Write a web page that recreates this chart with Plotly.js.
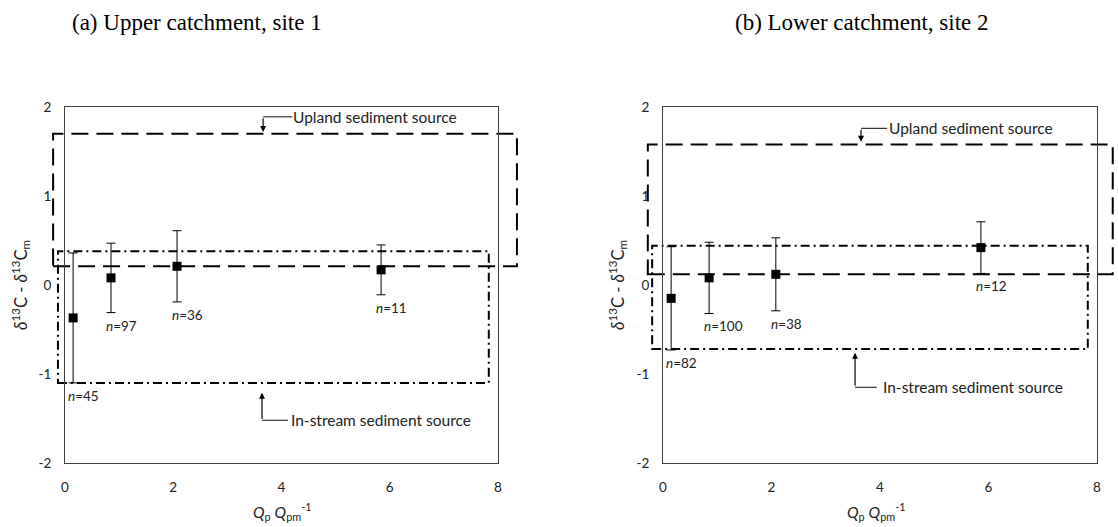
<!DOCTYPE html>
<html>
<head>
<meta charset="utf-8">
<script src="https://cdn.plot.ly/plotly-3.0.1.min.js"></script>
<style>html,body{margin:0;padding:0;background:#fff}#chart{width:1118px;height:527px}</style>
</head>
<body>
<div id="chart"></div>
<script>
// ---- data ----
const panelTitles = ["(a) Upper catchment, site 1", "(b) Lower catchment, site 2"];
// site 1
const xA = [0.15, 0.85, 2.07, 5.84];
const yA = [-0.37, 0.08, 0.21, 0.17];
const errA = [0.73, 0.39, 0.40, 0.28];
const nA = [45, 97, 36, 11];
// site 2
const xB = [0.15, 0.85, 2.08, 5.86];
const yB = [-0.15, 0.08, 0.12, 0.42];
const errB = [0.58, 0.40, 0.41, 0.29];
const nB = [82, 100, 38, 12];
// source ranges [x0, x1, y0, y1]
const uplandA = [-0.22, 8.35, 0.21, 1.70];
const instreamA = [-0.13, 7.83, -1.10, 0.38];
const uplandB = [-0.28, 8.29, 0.12, 1.58];
const instreamB = [-0.20, 7.83, -0.72, 0.44];
const sourceLabels = ["Upland sediment source", "In-stream sediment source"];
const xTicks = [0, 2, 4, 6, 8];
const yTicks = [-2, -1, 0, 1, 2];

// ---- layout helpers ----
const W = 1118, H = 527;
const XR = [0, 8], YR = [-2, 2];
const px = v => v / W, py = v => 1 - v / H;
const dx = v => (v - XR[0]) / (XR[1] - XR[0]);
const dy = v => (v - YR[0]) / (YR[1] - YR[0]);
const FONT = "Lato, 'Open Sans', sans-serif";
const INK = '#222';

function traceFor(x, y, e, xa, ya) {
  return {
    type: 'scatter', mode: 'markers', x: x, y: y, xaxis: xa, yaxis: ya,
    marker: {symbol: 'square', size: 9, color: '#000'},
    error_y: {type: 'data', array: e, visible: true, color: '#000', thickness: 1, width: 4.5},
    hoverinfo: 'skip', showlegend: false, cliponaxis: false
  };
}

function boxShape(b, xs, ys, dash) {
  return {type: 'rect', xref: xs + ' domain', yref: ys + ' domain',
    x0: dx(b[0]), x1: dx(b[1]), y0: dy(b[2]), y1: dy(b[3]),
    line: {color: '#000', width: 2, dash: dash}, layer: 'below'};
}

const LONGDASH = '17px,8px';
const DASHDOT = '9px,4px,2px,4px';

const shapes = [
  boxShape(uplandA, 'x', 'y', LONGDASH),
  boxShape(instreamA, 'x', 'y', DASHDOT),
  boxShape(uplandB, 'x2', 'y2', LONGDASH),
  boxShape(instreamB, 'x2', 'y2', DASHDOT)
];

const annotations = [];
// panel titles
const TFONT = {family: "'Liberation Serif', 'Times New Roman', serif", size: 23, color: '#000'};
annotations.push({text: panelTitles[0], xref: 'paper', yref: 'paper', x: px(70), y: py(22), xanchor: 'left', yanchor: 'middle', showarrow: false, font: TFONT});
annotations.push({text: panelTitles[1], xref: 'paper', yref: 'paper', x: px(733), y: py(22), xanchor: 'left', yanchor: 'middle', showarrow: false, font: TFONT});

// n labels
function nLabels(x, y, e, n, xa, ya) {
  for (let i = 0; i < x.length; i++) {
    annotations.push({text: '<i>n</i>=' + n[i], xref: xa, yref: ya, x: x[i], y: y[i] - e[i],
      xanchor: 'left', yanchor: 'middle', xshift: -7, yshift: -13, showarrow: false,
      font: {family: FONT, size: 13.5, color: INK}});
  }
}
nLabels(xA, yA, errA, nA, 'x', 'y');
nLabels(xB, yB, errB, nB, 'x2', 'y2');

// source callouts: elbow arrows
function callout(xa, ya, label, xv, yTip, yElbow, xEnd, xText) {
  annotations.push({text: '', xref: xa, yref: ya, x: xv, y: yTip, axref: xa, ayref: ya, ax: xv, ay: yElbow,
    showarrow: true, arrowhead: 2, arrowsize: 1, arrowwidth: 1.2, arrowcolor: '#000'});
  shapes.push({type: 'line', xref: xa, yref: ya, x0: xv, x1: xEnd, y0: yElbow, y1: yElbow,
    line: {color: '#333', width: 1.2}});
  annotations.push({text: label, xref: xa, yref: ya, x: xText, y: yElbow, xanchor: 'left', yanchor: 'middle',
    showarrow: false, font: {family: FONT, size: 15.5, color: INK}});
}
callout('x', 'y', sourceLabels[0], 3.66, 1.72, 1.89, 4.20, 4.18);
callout('x', 'y', sourceLabels[1], 3.64, -1.21, -1.52, 4.12, 4.14);
callout('x2', 'y2', sourceLabels[0], 3.65, 1.61, 1.76, 4.13, 4.12);
callout('x2', 'y2', sourceLabels[1], 3.54, -0.76, -1.15, 3.94, 4.02);

// axis titles
const yTitle = '<i>δ</i><sup>13</sup>C - <i>δ</i><sup>13</sup>C<sub>m</sub>';
const xTitle = '<i>Q</i><sub>p</sub> <i>Q</i><sub>pm</sub><sup>-1</sup>';
[[20, 285], [617, 285]].forEach(p => annotations.push({text: yTitle, xref: 'paper', yref: 'paper', x: px(p[0]), y: py(p[1]),
  textangle: -90, showarrow: false, xanchor: 'center', yanchor: 'middle', font: {family: FONT, size: 16.5, color: INK}}));
[[282, 511], [876, 511]].forEach(p => annotations.push({text: xTitle, xref: 'paper', yref: 'paper', x: px(p[0]), y: py(p[1]),
  showarrow: false, xanchor: 'center', yanchor: 'middle', font: {family: FONT, size: 15.5, color: INK}}));

function xAxis(domain, anchor) {
  return {domain: domain, anchor: anchor, range: XR, tickvals: xTicks, ticktext: xTicks.map(String),
    showgrid: false, zeroline: false, showline: true, mirror: true, linecolor: '#404040', linewidth: 1,
    ticks: '', ticklabelstandoff: 12, tickfont: {family: FONT, size: 13.5, color: INK}, fixedrange: true};
}
function yAxis(domain, anchor) {
  return {domain: domain, anchor: anchor, range: YR, tickvals: yTicks, ticktext: yTicks.map(String),
    showgrid: false, zeroline: false, showline: true, mirror: true, linecolor: '#404040', linewidth: 1,
    ticks: 'outside', ticklen: 10, tickcolor: 'rgba(0,0,0,0)', tickfont: {family: FONT, size: 13.5, color: INK}, fixedrange: true};
}

const yDom = [1 - 463 / H, 1 - 107 / H];
const layout = {
  width: W, height: H, margin: {l: 0, r: 0, t: 0, b: 0},
  paper_bgcolor: '#fff', plot_bgcolor: 'rgba(0,0,0,0)', showlegend: false,
  xaxis: xAxis([px(65), px(498)], 'y'),
  yaxis: yAxis(yDom, 'x'),
  xaxis2: xAxis([px(663), px(1097)], 'y2'),
  yaxis2: yAxis(yDom, 'x2'),
  shapes: shapes, annotations: annotations
};

Plotly.newPlot('chart', [traceFor(xA, yA, errA, 'x', 'y'), traceFor(xB, yB, errB, 'x2', 'y2')], layout,
  {displayModeBar: false, staticPlot: true});
</script>
</body>
</html>
